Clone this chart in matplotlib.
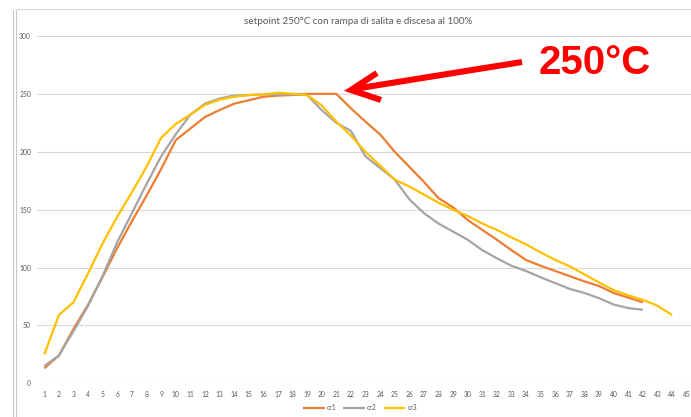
import matplotlib
matplotlib.use("Agg")
import matplotlib.pyplot as plt
from matplotlib.lines import Line2D

# ---------------- data ----------------
categories = list(range(1, 46))

cr1 = [13, 24, 47, 68, 92, 117, 140, 162, 185, 210, 220, 230, 236, 241.5, 244.5,
       247.5, 248.5, 249, 250, 250, 250, 237.5, 226, 215, 200, 187, 174, 160, 152,
       141, 132.5, 124, 115, 106.5, 101.5, 97, 92.5, 88, 84, 78, 74, 70]
cr2 = [15, 24, 45, 67, 93, 122, 147, 172, 196, 215, 232, 241.5, 246, 248.5, 249,
       249.5, 249.5, 249.5, 249, 236, 225, 218, 196, 186, 176, 159, 147, 138, 131,
       124, 115, 108, 101.5, 97, 91.5, 86.5, 81.5, 78, 73.5, 68, 65, 63.5]
cr3 = [25, 59, 70, 95, 121, 144, 165, 187, 212, 224, 232, 240.5, 245, 247.5, 249,
       249.5, 251, 250, 249, 240, 226, 214, 200, 188, 176, 170, 163, 156, 150,
       144.5, 138, 132.5, 126, 120, 113, 106.5, 101, 94, 87, 80.5, 76, 72, 67, 59]

series_names = ["cr1", "cr2", "cr3"]
series_colors = ["#ED7D31", "#A5A5A5", "#FFC000"]
y_ticks = [0, 50, 100, 150, 200, 250, 300]

title = "setpoint 250°C con rampa di salita e discesa al 100%"
annotation = "250°C"

# ---------------- figure ----------------
W, H = 691, 417
fig = plt.figure(figsize=(W / 100, H / 100), dpi=100)

left_px, right_px = 37.0, 694.0
top_px, bottom_px = 36.0, 383.3
ax = fig.add_axes([left_px / W, 1 - bottom_px / H,
                   (right_px - left_px) / W, (bottom_px - top_px) / H])

for vals, name, col in zip([cr1, cr2, cr3], series_names, series_colors):
    ax.plot(categories[:len(vals)], vals, color=col, lw=1.6, label=name,
            solid_joinstyle="round", solid_capstyle="butt")

ax.set_xlim(0.5, 45.5)
ax.set_ylim(0, 300)
ax.set_xticks(categories)
ax.set_xticklabels([str(c) for c in categories])
ax.set_yticks(y_ticks)
ax.set_yticklabels([str(v) for v in y_ticks])
ax.grid(axis="y", color="#D9D9D9", lw=0.8)
ax.set_axisbelow(True)
for s in ax.spines.values():
    s.set_visible(False)
ax.tick_params(axis="both", length=0, labelsize=4.9, labelcolor="#595959")
ax.tick_params(axis="x", pad=5.2)
ax.tick_params(axis="y", pad=4.3)
for lab in ax.get_xticklabels() + ax.get_yticklabels():
    lab.set_fontfamily("Lato")

fig.text(358.5 / W, 1 - 21 / H, title, ha="center", va="center",
         fontsize=7.1, color="#595959", family="Lato")

leg = fig.legend(loc="center", bbox_to_anchor=(360 / W, 1 - 408 / H), ncol=3,
                 frameon=False, prop={"family": "Lato", "size": 4.9},
                 handlelength=3.2, handletextpad=0.3, columnspacing=1.0)
for t in leg.get_texts():
    t.set_color("#595959")

# chart-area border remnants
def fl(xs, ys, **kw):
    fig.add_artist(Line2D([x / W for x in xs], [1 - y / H for y in ys],
                          transform=fig.transFigure, **kw))

fl([17, 691], [8.5, 8.5], color="#D9D9D9", lw=0.8)
fl([12.5, 12.5], [10, 417], color="#C8C8C8", lw=0.8)
fl([15.5, 15.5], [10, 417], color="#C8C8C8", lw=0.8)

# red arrow and label
red = "#FF0000"
fl([522, 354], [62, 89], color=red, lw=4.4, solid_capstyle="butt")
fl([377, 351, 381], [73, 90, 100], color=red, lw=4.4,
   solid_capstyle="butt", solid_joinstyle="miter")
fig.text(595 / W, 1 - 62.5 / H, annotation, ha="center", va="center",
         fontsize=29, fontweight="bold", color=red, family="Liberation Sans")

fig.savefig("out.png", dpi=100)
